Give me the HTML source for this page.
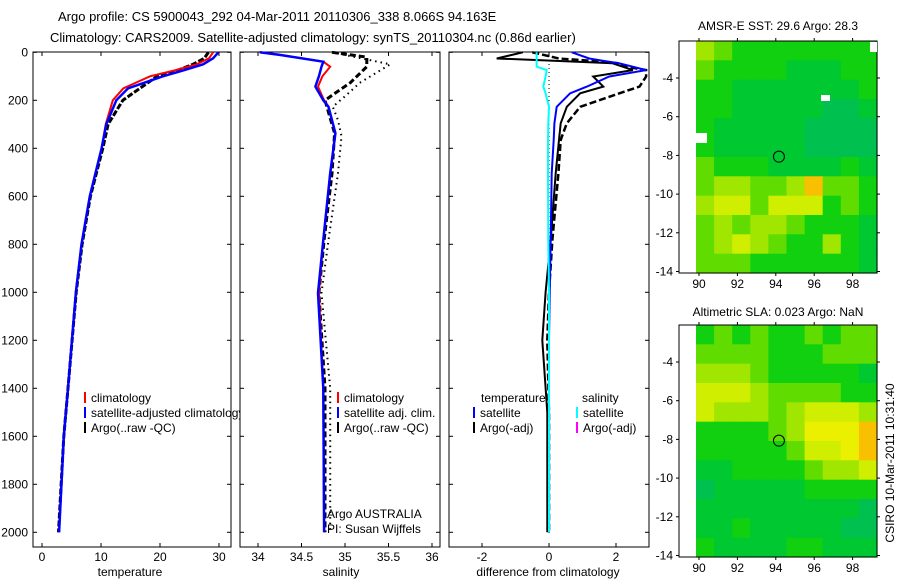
<!DOCTYPE html>
<html><head><meta charset="utf-8">
<style>
html,body{margin:0;padding:0;background:#fff;}
svg{display:block;font-family:"Liberation Sans",sans-serif;}
text{font-size:12px;fill:#000;}
</style></head>
<body>
<svg id="chart" width="900" height="580" viewBox="0 0 900 580" xmlns="http://www.w3.org/2000/svg">
<text x="58" y="21" style="font-size:13px">Argo profile: CS 5900043_292 04-Mar-2011 20110306_338 8.066S 94.163E</text>
<text x="50" y="42" style="font-size:13px">Climatology: CARS2009. Satellite-adjusted climatology: synTS_20110304.nc (0.86d earlier)</text>
<g id="g"></g>
</svg>
<script>
// ---------- data ----------
const depthT = [0, 25, 50, 75, 100, 150, 200, 300, 400, 600, 800, 1000, 1400, 1600, 2000];
const tempClim = [29.0, 28.3, 26.2, 22.5, 18.3, 13.8, 12.0, 10.8, 10.1, 8.1, 6.7, 5.75, 4.4, 3.7, 2.9];
const tempSat = [29.9, 29.0, 27.3, 24.0, 20.5, 14.6, 12.6, 10.9, 10.1, 8.1, 6.7, 5.75, 4.4, 3.7, 2.9];
const tempArgo = [28.2, 27.5, 25.6, 23.0, 19.5, 16.6, 13.7, 11.2, 10.3, 8.2, 6.8, 5.8, 4.4, 3.7, 2.8];

const depthS = [0, 11, 39, 60, 100, 143, 200, 227, 337, 504, 782, 1003, 1400, 2000];
const salClim = [34.02, 34.25, 34.75, 34.83, 34.74, 34.69, 34.76, 34.81, 34.89, 34.83, 34.75, 34.70, 34.75, 34.76];
const salSat = [34.02, 34.25, 34.75, 34.73, 34.70, 34.66, 34.75, 34.81, 34.89, 34.83, 34.75, 34.69, 34.75, 34.76];
const salArgoDepth = [0, 20, 60, 127, 177, 200, 337, 504, 782, 1003, 1400, 2000];
const salArgo = [34.85, 35.25, 35.25, 35.06, 34.86, 34.77, 34.88, 34.85, 34.76, 34.70, 34.77, 34.77];
const salRawDepth = [0, 50, 127, 177, 227, 283, 350, 504, 782, 1003, 1400, 2000];
const salRaw = [34.85, 35.52, 35.17, 35.02, 34.86, 34.92, 34.96, 34.92, 34.81, 34.73, 34.83, 34.83];

const dDepth = [0, 26, 35, 46, 60, 74, 101, 143, 171, 227, 296, 365, 504, 780, 1000, 1200, 1500, 2000];
const diffTSat = [0.68, 1.2, 1.6, 2.1, 2.5, 2.9, 1.8, 1.13, 0.63, 0.23, 0.16, 0.14, 0.08, 0.05, 0.02, 0.0, 0.0, 0.0];
const diffTArgo = [-0.78, -1.56, 0.14, 1.9, 2.2, 2.5, 1.32, 1.62, 0.93, 0.53, 0.35, 0.3, 0.2, 0.05, -0.1, -0.2, -0.05, -0.05];
const diffTRaw = [-0.5, 0.3, 1.2, 2.1, 2.3, 2.9, 2.9, 2.7, 2.1, 0.93, 0.53, 0.35, 0.28, 0.1, 0.0, -0.05, 0.0, 0.0];
const diffSSat = [-0.37, -0.37, -0.37, -0.37, -0.37, -0.07, -0.1, -0.17, -0.1, 0.0, -0.02, -0.03, -0.03, -0.02, 0.0, 0.0, 0.0, 0.0];

const yTicks = [0, 200, 400, 600, 800, 1000, 1200, 1400, 1600, 1800, 2000];
const tTicks = [0, 10, 20, 30];
const sTicks = [34, 34.5, 35, 35.5, 36];
const sTickLabels = ["34", "34.5", "35", "35.5", "36"];
const dTicks = [-2, 0, 2];
const lonTicks = [90, 92, 94, 96, 98];
const latTicks1 = [-4, -6, -8, -10, -12, -14];
const latTicks2 = [-4, -6, -8, -10, -12, -14];

// map grids: 12 rows (lat -2.1 → -14.1), 10 cols (lon 89.85 → 99.25), level 0 (teal) .. 9 (orange)
const sstGrid = [
 [5,4,3,3,3,3,3,3,3,3],
 [4,3,3,3,3,2,2,2,3,3],
 [3,3,2,2,2,2,2,2,2,3],
 [3,3,2,2,2,2,2,1,1,2],
 [3,2,2,2,2,2,1,1,1,1],
 [3,2,2,2,2,2,1,1,1,1],
 [4,3,3,3,2,2,2,2,3,2],
 [4,5,5,4,4,5,8,4,4,3],
 [5,6,6,4,6,6,6,3,4,3],
 [4,5,4,5,5,4,3,3,3,2],
 [4,5,6,5,4,3,3,5,3,2],
 [4,4,4,3,3,3,3,3,3,2]];
const slaGrid = [
 [3,4,3,4,3,3,4,3,4,4],
 [4,4,4,4,3,3,3,4,4,4],
 [5,5,5,4,3,3,3,3,3,2],
 [6,6,6,5,4,4,4,4,3,3],
 [6,5,5,5,4,5,6,6,6,5],
 [3,3,3,3,4,5,7,7,7,8],
 [3,3,3,3,3,4,6,6,7,8],
 [2,2,3,3,3,3,4,5,5,6],
 [1,2,2,2,2,2,3,3,3,3],
 [2,2,2,2,2,2,2,2,2,1],
 [2,2,3,2,2,2,2,2,1,1],
 [3,2,2,2,2,3,3,2,2,2]];
const palette = ["#00b878","#00c050","#00c830","#10d010","#60dc00","#a0e600","#d0ee00","#eaf000","#f8c000","#ffa000"];

// ---------- helpers ----------
const NS = "http://www.w3.org/2000/svg";
const G = document.getElementById("g");
function mk(tag, attrs, parent) {
  const e = document.createElementNS(NS, tag);
  for (const k in attrs) e.setAttribute(k, attrs[k]);
  (parent || G).appendChild(e);
  return e;
}
const PT = 52, PB = 547;
function yD(d) { return 52.3 + d * 0.24; }
function xT(t) { return 42 + t * 5.9; }
function xS(s) { return 258 + (s - 34) * 87; }
function xDf(v) { return 549 + v * 33.5; }

function panel(name, x0, x1) {
  const r = mk("rect", {x:x0, y:PT, width:x1-x0, height:PB-PT, fill:"#fff", stroke:"#000", "stroke-width":1});
  
  
}
function line(name, xs, ds, xf, color, w, dash) {
  const pts = xs.map((v, i) => xf(v).toFixed(1) + "," + yD(ds[i]).toFixed(1)).join(" ");
  const p = mk("polyline", {points:pts, fill:"none", stroke:color, "stroke-width":w});
  if (dash) p.setAttribute("stroke-dasharray", dash);
  
  
}
function txt(name, x, y, s, anchor, extra) {
  const t = mk("text", Object.assign({x:x, y:y, "text-anchor":anchor || "start"}, extra || {}));
  t.textContent = s;
  
  
  return t;
}
function xAxis(prefix, x0, x1, ticks, labels, xf) {
  ticks.forEach((v, i) => {
    const x = xf(v);
    const t1 = mk("line", {x1:x, x2:x, y1:PB, y2:PB-4, stroke:"#000"});
    
    
    mk("line", {x1:x, x2:x, y1:PT, y2:PT+4, stroke:"#000"});
    txt(prefix + '-tick-label', x, 561, labels[i], "middle");
  });
}
function yTicksDraw(x0, x1, labels) {
  yTicks.forEach(d => {
    const y = yD(d);
    const t = mk("line", {x1:x0, x2:x0+4, y1:y, y2:y, stroke:"#000"});
    
    
    mk("line", {x1:x1, x2:x1-4, y1:y, y2:y, stroke:"#000"});
    if (labels) txt('depth-tick-label', 28, y + 4, String(d), "end");
  });
}
function legendEntry(name, x, y, color, label) {
  const m = mk("line", {x1:x, x2:x, y1:y-10, y2:y+1, stroke:color, "stroke-width":2});
  
  
  txt(name, x + 6, y, label);
}

// ---------- panel 1: temperature ----------
panel("temperature-panel", 33, 231);
yTicksDraw(33, 231, true);
xAxis("temperature-axis", 33, 231, tTicks, tTicks.map(String), xT);
line("argo-temperature-line", tempArgo, depthT, xT, "#000", 3, "6,2");
line("climatology-temperature-line", tempClim, depthT, xT, "#f00", 2);
line("satellite-temperature-line", tempSat, depthT, xT, "#00f", 2.5);
legendEntry("legend-climatology", 85, 402, "#f00", "climatology");
legendEntry("legend-satellite-adjusted", 85, 417, "#00f", "satellite-adjusted climatology");
legendEntry("legend-argo-raw", 85, 432, "#000", "Argo(..raw -QC)");
txt("temperature-axis-title", 130, 576, "temperature", "middle");

// ---------- panel 2: salinity ----------
panel("salinity-panel", 240, 440);
yTicksDraw(240, 440, false);
xAxis("salinity-axis", 240, 440, sTicks, sTickLabels, xS);
line("argo-raw-salinity-line", salRaw, salRawDepth, xS, "#000", 2, "1.5,4");
line("argo-salinity-line", salArgo, salArgoDepth, xS, "#000", 3, "6,3");
line("climatology-salinity-line", salClim, depthS, xS, "#f00", 2);
line("satellite-salinity-line", salSat, depthS, xS, "#00f", 2.5);
legendEntry("legend-sal-climatology", 338, 402, "#f00", "climatology");
legendEntry("legend-sal-satellite", 338, 417, "#00f", "satellite adj. clim.");
legendEntry("legend-sal-argo", 338, 432, "#000", "Argo(..raw -QC)");
txt("argo-australia-label", 327, 518, "Argo AUSTRALIA");
txt("pi-label", 327, 533, "PI: Susan Wijffels");
txt("salinity-axis-title", 341, 576, "salinity", "middle");

// ---------- panel 3: differences ----------
panel("difference-panel", 449, 649);
yTicksDraw(449, 649, false);
xAxis("difference-axis", 449, 649, dTicks, dTicks.map(String), xDf);
const zl = mk("line", {x1:xDf(0), x2:xDf(0), y1:PT, y2:PB-12, stroke:"#000", "stroke-dasharray":"1,3"});


line("argo-raw-temperature-diff-line", diffTRaw, dDepth, xDf, "#000", 2.5, "7,3");
line("argo-temperature-diff-line", diffTArgo, dDepth, xDf, "#000", 2);
line("satellite-temperature-diff-line", diffTSat, dDepth, xDf, "#00f", 2);
line("satellite-salinity-diff-line", diffSSat, dDepth, xDf, "#0ff", 2);
txt("legend-temperature-heading", 481, 402, "temperature");
txt("legend-salinity-heading", 582, 402, "salinity");
legendEntry("legend-diff-temp-satellite", 474, 417, "#00f", "satellite");
legendEntry("legend-diff-temp-argo", 474, 432, "#000", "Argo(-adj)");
legendEntry("legend-diff-sal-satellite", 577, 417, "#0ff", "satellite");
legendEntry("legend-diff-sal-argo", 577, 432, "#f0f", "Argo(-adj)");
txt("difference-axis-title", 548, 576, "difference from climatology", "middle");

// ---------- maps ----------
function mapPanel(prefix, top, grid, latTicks, titleStr, titleY) {
  const L = 679, R = 877, bottom = top + 232;
  const lonX = lon => 699 + (lon - 90) * 19.2;
  const latY = lat => top + 37 + (-4 - lat) * 19.35;
  const box = mk("rect", {x:L, y:top, width:R-L, height:bottom-top, fill:"#fff", stroke:"#000"});
  
  
  const dx0 = 696, cw = (R - dx0) / 10, ch = (bottom - top) / 12;
  grid.forEach((row, r) => row.forEach((v, c) => {
    const cell = mk("rect", {x:(dx0 + c*cw).toFixed(1), y:(top + r*ch).toFixed(1), width:(cw+0.6).toFixed(1), height:(ch+0.6).toFixed(1), fill:palette[v]});
    
    
  }));
  mk("rect", {x:L, y:top, width:R-L, height:bottom-top, fill:"none", stroke:"#000"});
  lonTicks.forEach(lon => {
    const x = lonX(lon);
    mk("line", {x1:x, x2:x, y1:bottom, y2:bottom+3, stroke:"#000"});
    mk("line", {x1:x, x2:x, y1:top, y2:top-3, stroke:"#000"});
    txt(prefix + '-lon-label', x, bottom + 15, String(lon), "middle");
  });
  latTicks.forEach(lat => {
    const y = latY(lat);
    if (y > bottom + 1) return;
    mk("line", {x1:L, x2:L-3, y1:y, y2:y, stroke:"#000"});
    mk("line", {x1:R, x2:R+3, y1:y, y2:y, stroke:"#000"});
    txt(prefix + '-lat-label', L - 6, y + 4, String(lat), "end");
  });
  const circ = mk("circle", {cx:lonX(94.163), cy:latY(-8.066), r:5.5, fill:"none", stroke:"#000"});
  
  
  txt(prefix + '-map-title', 778, titleY, titleStr, "middle");
}
mapPanel("sst", 41, sstGrid, latTicks1, "AMSR-E SST: 29.6 Argo: 28.3", 30);
// white gaps in SST map
mk("rect", {x:696, y:133, width:11, height:10, fill:"#fff"});
mk("rect", {x:821, y:95, width:9, height:6, fill:"#fff"});
mk("rect", {x:870, y:42, width:7, height:10, fill:"#fff"});
mapPanel("sla", 325, slaGrid, latTicks2, "Altimetric SLA: 0.023 Argo: NaN", 316);
const stamp = txt("timestamp-label", 0, 0, "CSIRO 10-Mar-2011 10:31:40", "middle", {transform:"translate(894,463) rotate(-90)"});
</script>
</body></html>
